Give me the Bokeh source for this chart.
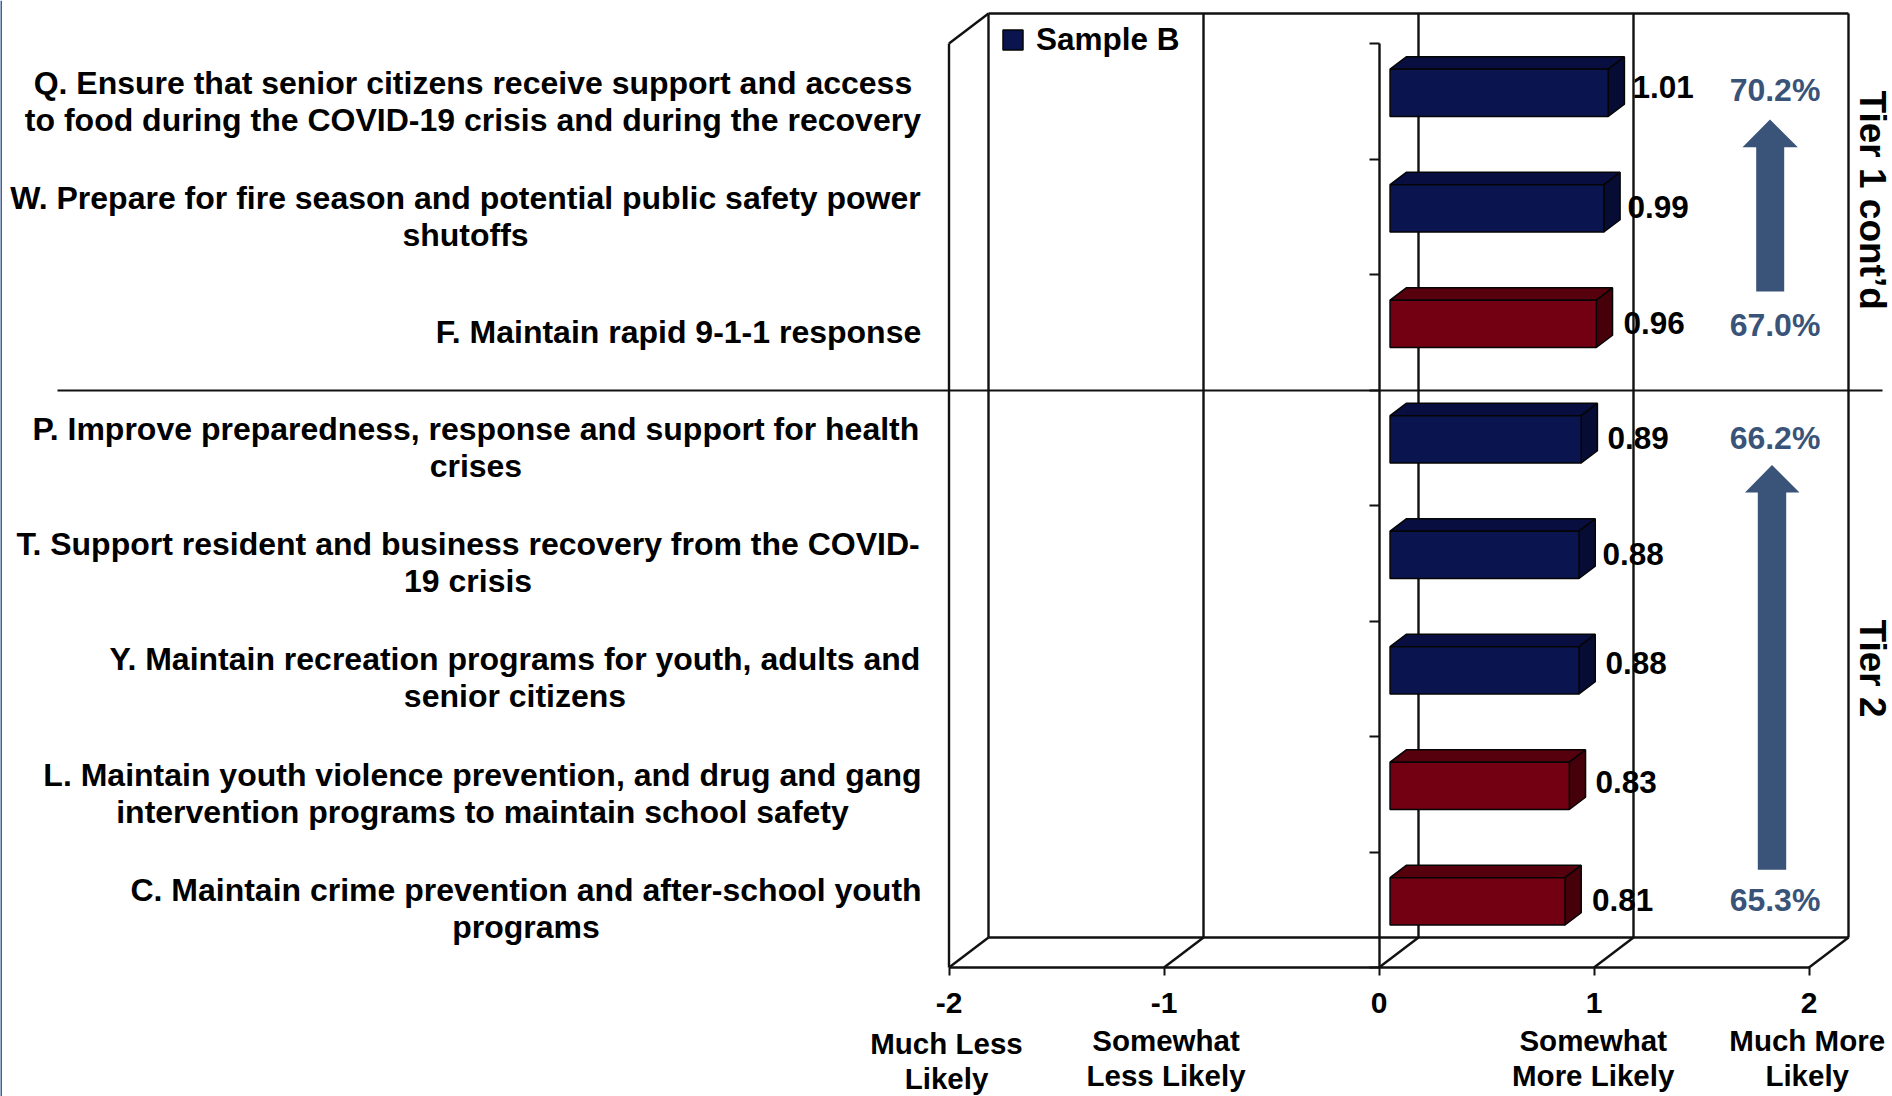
from bokeh.plotting import figure
from bokeh.models import (LinearAxis, FixedTicker, Range1d, Legend, LegendItem)
from bokeh.core.properties import value
from bokeh.embed import file_html
from bokeh.resources import INLINE

# ---------- data ----------
category_lines = [
    ["Q. Ensure that senior citizens receive support and access",
     "to food during the COVID-19 crisis and during the recovery"],
    ["W. Prepare for fire season and potential public safety power", "shutoffs"],
    ["F. Maintain rapid 9-1-1 response"],
    ["P. Improve preparedness, response and support for health", "crises"],
    ["T. Support resident and business recovery from the COVID-", "19 crisis"],
    ["Y. Maintain recreation programs for youth, adults and", "senior citizens"],
    ["L. Maintain youth violence prevention, and drug and gang",
     "intervention programs to maintain school safety"],
    ["C. Maintain crime prevention and after-school youth", "programs"],
]
sample_values = [1.01, 0.99, 0.955, 0.885, 0.875, 0.875, 0.83, 0.81]
value_labels = ["1.01", "0.99", "0.96", "0.89", "0.88", "0.88", "0.83", "0.81"]
groups = ["blue", "blue", "red", "blue", "blue", "blue", "red", "red"]
x_ticks = [-2, -1, 0, 1, 2]
scale_lines = [["Much Less", "Likely"], ["Somewhat", "Less Likely"], [],
               ["Somewhat", "More Likely"], ["Much More", "Likely"]]
pct_labels = ["70.2%", "67.0%", "66.2%", "65.3%"]
tier_labels = ["Tier 1 cont\u2019d", "Tier 2"]
legend_label = "Sample B"

# ---------- layout (page pixels) ----------
W, H = 1892, 1096
MARGIN = 0
PX_X = 215.0
PX_Y = 115.5
X0_PX, Y0_PX = 1378.5, 967.0
FONT = value("Liberation Sans")
LINE = "#111111"


def X(px):
    return (px - X0_PX) / PX_X


def Y(py):
    return (Y0_PX - py) / PX_Y


DX, DY = 39.5 / PX_X, 30.0 / PX_Y
T0, T1 = 0.28, 0.69
HALF = 0.205
BAR_SCALE = 216.0 / PX_X
N = len(sample_values)

p = figure(width=W, height=H, output_backend="svg", toolbar_location=None,
           x_range=Range1d(X(MARGIN), X(MARGIN + W)),
           y_range=Range1d(Y(MARGIN + H), Y(MARGIN)),
           x_axis_type=None, y_axis_type=None,
           min_border=0, min_border_left=0, min_border_right=0,
           min_border_top=0, min_border_bottom=0,
           outline_line_color=None, background_fill_color="white",
           border_fill_color="white")
p.grid.visible = False

# page edge rule seen in the reference
p.segment([X(0.5)], [Y(0)], [X(0.5)], [Y(1096)], line_color="#3F5F9E", line_width=2)

# 3-D box: walls and floor
x_lo, x_hi = x_ticks[0], x_ticks[-1]
wall_x0, wall_y0, wall_x1, wall_y1 = [], [], [], []


def seg(a, b, c, d):
    wall_x0.append(a); wall_y0.append(b); wall_x1.append(c); wall_y1.append(d)


for t in x_ticks:
    seg(t, 0, t + DX, DY)                    # floor diagonals
    seg(t + DX, DY, t + DX, N + DY)          # back wall grid
seg(x_lo, 0, x_lo, N)                        # left wall front edge
seg(x_lo, N, x_lo + DX, N + DY)              # left wall top diagonal
seg(x_lo + DX, N + DY, x_hi + DX, N + DY)    # back wall top
seg(x_lo + DX, DY, x_hi + DX, DY)            # back wall bottom
p.segment(wall_x0, wall_y0, wall_x1, wall_y1, line_color=LINE, line_width=2.4)

# axes on the front plane
xaxis = LinearAxis(fixed_location=0, ticker=FixedTicker(ticks=x_ticks), bounds=(x_lo, x_hi),
                   axis_line_color=LINE, axis_line_width=2.4,
                   major_tick_line_color=LINE, major_tick_line_width=2,
                   major_tick_in=0, major_tick_out=8, minor_tick_line_color=None,
                   major_label_text_font="Liberation Sans", major_label_text_font_style="bold",
                   major_label_text_font_size="30px", major_label_text_color="black",
                   major_label_overrides={-2: "-2", -1: "-1"},
                   major_label_standoff=17)
p.add_layout(xaxis, "below")
yaxis = LinearAxis(fixed_location=0, ticker=FixedTicker(ticks=list(range(N + 1))), bounds=(0, N),
                   axis_line_color=LINE, axis_line_width=2.4,
                   major_tick_line_color=LINE, major_tick_line_width=2,
                   major_tick_in=0, major_tick_out=10, minor_tick_line_color=None,
                   major_label_overrides={i: "" for i in range(N + 1)}, major_label_standoff=0)
p.add_layout(yaxis, "left")

# bars
COL = {"blue": ("#0A144F", "#080F40", "#060C33"),
       "red": ("#720012", "#56000D", "#46000A")}
renderers = {}
for g in ("blue", "red"):
    fx, fy, tx, ty, sx, sy = [], [], [], [], [], []
    for i, (v, gg) in enumerate(zip(sample_values, groups)):
        if gg != g:
            continue
        c = N - i - 0.5
        l = T0 * DX
        r = l + v * BAR_SCALE
        yc = c + T0 * DY
        d_x, d_y = (T1 - T0) * DX, (T1 - T0) * DY
        fx.append([l, r, r, l]); fy.append([yc - HALF, yc - HALF, yc + HALF, yc + HALF])
        tx.append([l, r, r + d_x, l + d_x]); ty.append([yc + HALF, yc + HALF, yc + HALF + d_y, yc + HALF + d_y])
        sx.append([r, r + d_x, r + d_x, r]); sy.append([yc - HALF, yc - HALF + d_y, yc + HALF + d_y, yc + HALF])
    p.patches(tx, ty, fill_color=COL[g][1], line_color="#050505", line_width=1.5)
    p.patches(sx, sy, fill_color=COL[g][2], line_color="#050505", line_width=1.5)
    renderers[g] = p.patches(fx, fy, fill_color=COL[g][0], line_color="#050505", line_width=1.5)

# tier separator
p.segment([X(57)], [Y(390)], [X(1882)], [Y(390)], line_color=LINE, line_width=1.8)

BASE_SHIFT = 0.365  # the page renderer sets alphabetic text this far (in em) below its anchor


def text(xs, ys, txt, size, align="center", color="black", angle=0):
    off = BASE_SHIFT * size
    p.text(xs, ys, text=txt, text_font=FONT, text_font_style="bold",
           text_font_size=f"{size}px", text_align=align, text_baseline="alphabetic",
           text_color=color, angle=angle,
           x_offset=off if angle else 0, y_offset=0 if angle else -off)


# category labels: each block is centred on itself, blocks end at the same right edge
block_center = [472.4, 465, 678, 475.4, 467.6, 514.5, 482, 525.5]
block_base = [94, 209, 343, 440, 555, 670, 786, 901]
lx, ly, lt = [], [], []
for c, b, lines in zip(block_center, block_base, category_lines):
    for k, s in enumerate(lines):
        lx.append(X(c)); ly.append(Y(b + 37 * k)); lt.append(s)
text(lx, ly, lt, 32)

# value labels
val_x = [1632, 1627, 1623, 1607, 1602, 1605, 1595, 1591.5]
val_base = [98, 218, 334, 449, 565, 674, 793, 911]
text([X(a) for a in val_x], [Y(b) for b in val_base], value_labels, 31.5, align="left")

# scale captions
cap_center = [946, 1165.5, 0, 1592.7, 1806.7]
cap_base = [[1054, 1089], [1051, 1086], [], [1051, 1086], [1051, 1086]]
cx, cy, ct = [], [], []
for c, bs, lines in zip(cap_center, cap_base, scale_lines):
    for b, s in zip(bs, lines):
        cx.append(X(c)); cy.append(Y(b)); ct.append(s)
text(cx, cy, ct, 29.5)

# percentages and arrows
BLUE2 = "#3A5378"
text([X(1774.5)] * 4, [Y(b) for b in (101, 336, 449.5, 911)], pct_labels, 32, color=BLUE2)


def arrow(cxp, tip, base, end, head_l, head_r, sh_l, sh_r):
    return ([X(cxp), X(head_r), X(sh_r), X(sh_r), X(sh_l), X(sh_l), X(head_l)],
            [Y(tip), Y(base), Y(base), Y(end), Y(end), Y(base), Y(base)])


a1 = arrow(1769.5, 119, 146.7, 291, 1742, 1797.3, 1755.7, 1783.7)
a2 = arrow(1771.5, 464.5, 492, 869.3, 1744.5, 1799, 1757.3, 1785.7)
p.patches([a1[0], a2[0]], [a1[1], a2[1]], fill_color=BLUE2, line_color=None)

# tier labels, rotated
text([X(1858)], [Y(90)], [tier_labels[0]], 37, align="left", angle=-1.5708)
text([X(1858)], [Y(619)], [tier_labels[1]], 37, align="left", angle=-1.5708)

# legend
legend = Legend(items=[LegendItem(label=legend_label, renderers=[renderers["blue"]])],
                location=(1000, 1096 - 58), background_fill_alpha=0, border_line_color=None,
                label_text_font="Liberation Sans", label_text_font_style="bold",
                label_text_font_size="31.5px", label_text_color="black",
                glyph_width=25, glyph_height=25, label_standoff=11,
                padding=10, margin=0, label_height=21)
p.add_layout(legend, "center")

open("out.html", "w").write(file_html(p, INLINE))
